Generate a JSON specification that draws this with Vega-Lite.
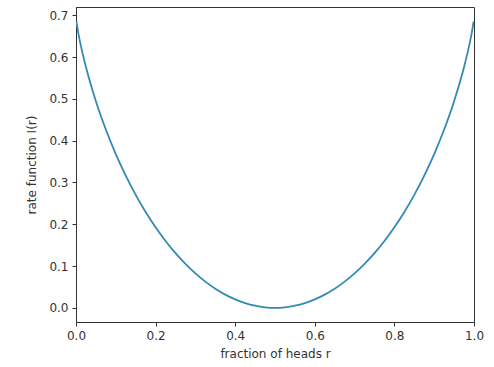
{
  "$schema": "https://vega.github.io/schema/vega-lite/v6.json",
  "autosize": {"type": "none"},
  "width": 398,
  "height": 315,
  "padding": {"left": 76, "top": 7, "right": 20, "bottom": 45},
  "background": "white",
  "config": {
    "view": {"stroke": "#333333", "strokeWidth": 1},
    "font": "DejaVu Sans",
    "axis": {
      "grid": false,
      "domainColor": "#333333",
      "tickColor": "#333333",
      "tickSize": 4,
      "labelColor": "#333333",
      "titleColor": "#333333",
      "labelFontSize": 12,
      "titleFontSize": 12,
      "titleFontWeight": "normal",
      "labelFont": "DejaVu Sans",
      "titleFont": "DejaVu Sans"
    }
  },
  "data": {
    "values": [
      {"r": 0.001, "I": 0.6852},
      {"r": 0.005, "I": 0.66167},
      {"r": 0.01, "I": 0.63715},
      {"r": 0.025, "I": 0.57624},
      {"r": 0.05, "I": 0.49463},
      {"r": 0.075, "I": 0.42676},
      {"r": 0.1, "I": 0.36806},
      {"r": 0.125, "I": 0.31638},
      {"r": 0.15, "I": 0.27044},
      {"r": 0.175, "I": 0.22942},
      {"r": 0.2, "I": 0.19274},
      {"r": 0.225, "I": 0.15998},
      {"r": 0.25, "I": 0.13081},
      {"r": 0.275, "I": 0.10498},
      {"r": 0.3, "I": 0.08228},
      {"r": 0.325, "I": 0.06257},
      {"r": 0.35, "I": 0.0457},
      {"r": 0.375, "I": 0.03158},
      {"r": 0.4, "I": 0.02014},
      {"r": 0.425, "I": 0.01129},
      {"r": 0.45, "I": 0.00501},
      {"r": 0.475, "I": 0.00125},
      {"r": 0.5, "I": 0.0},
      {"r": 0.525, "I": 0.00125},
      {"r": 0.55, "I": 0.00501},
      {"r": 0.575, "I": 0.01129},
      {"r": 0.6, "I": 0.02014},
      {"r": 0.625, "I": 0.03158},
      {"r": 0.65, "I": 0.0457},
      {"r": 0.675, "I": 0.06257},
      {"r": 0.7, "I": 0.08228},
      {"r": 0.725, "I": 0.10498},
      {"r": 0.75, "I": 0.13081},
      {"r": 0.775, "I": 0.15998},
      {"r": 0.8, "I": 0.19274},
      {"r": 0.825, "I": 0.22942},
      {"r": 0.85, "I": 0.27044},
      {"r": 0.875, "I": 0.31638},
      {"r": 0.9, "I": 0.36806},
      {"r": 0.925, "I": 0.42676},
      {"r": 0.95, "I": 0.49463},
      {"r": 0.975, "I": 0.57624},
      {"r": 0.99, "I": 0.63715},
      {"r": 0.995, "I": 0.66167},
      {"r": 0.999, "I": 0.6852}
    ]
  },
  "mark": {"type": "line", "interpolate": "monotone", "color": "#3589b3", "strokeWidth": 1.8, "clip": true},
  "encoding": {
    "x": {
      "field": "r",
      "type": "quantitative",
      "scale": {"domain": [0, 1], "nice": false, "zero": false},
      "axis": {"values": [0, 0.2, 0.4, 0.6, 0.8, 1.0], "format": ".1f", "title": "fraction of heads r", "labelPadding": 4, "titlePadding": 7, "labelFlush": false}
    },
    "y": {
      "field": "I",
      "type": "quantitative",
      "scale": {"domain": [-0.034, 0.72], "nice": false, "zero": false},
      "axis": {"values": [0, 0.1, 0.2, 0.3, 0.4, 0.5, 0.6, 0.7], "format": ".1f", "title": "rate function I(r)", "labelPadding": 4, "titlePadding": 10, "labelFlush": false}
    }
  }
}
